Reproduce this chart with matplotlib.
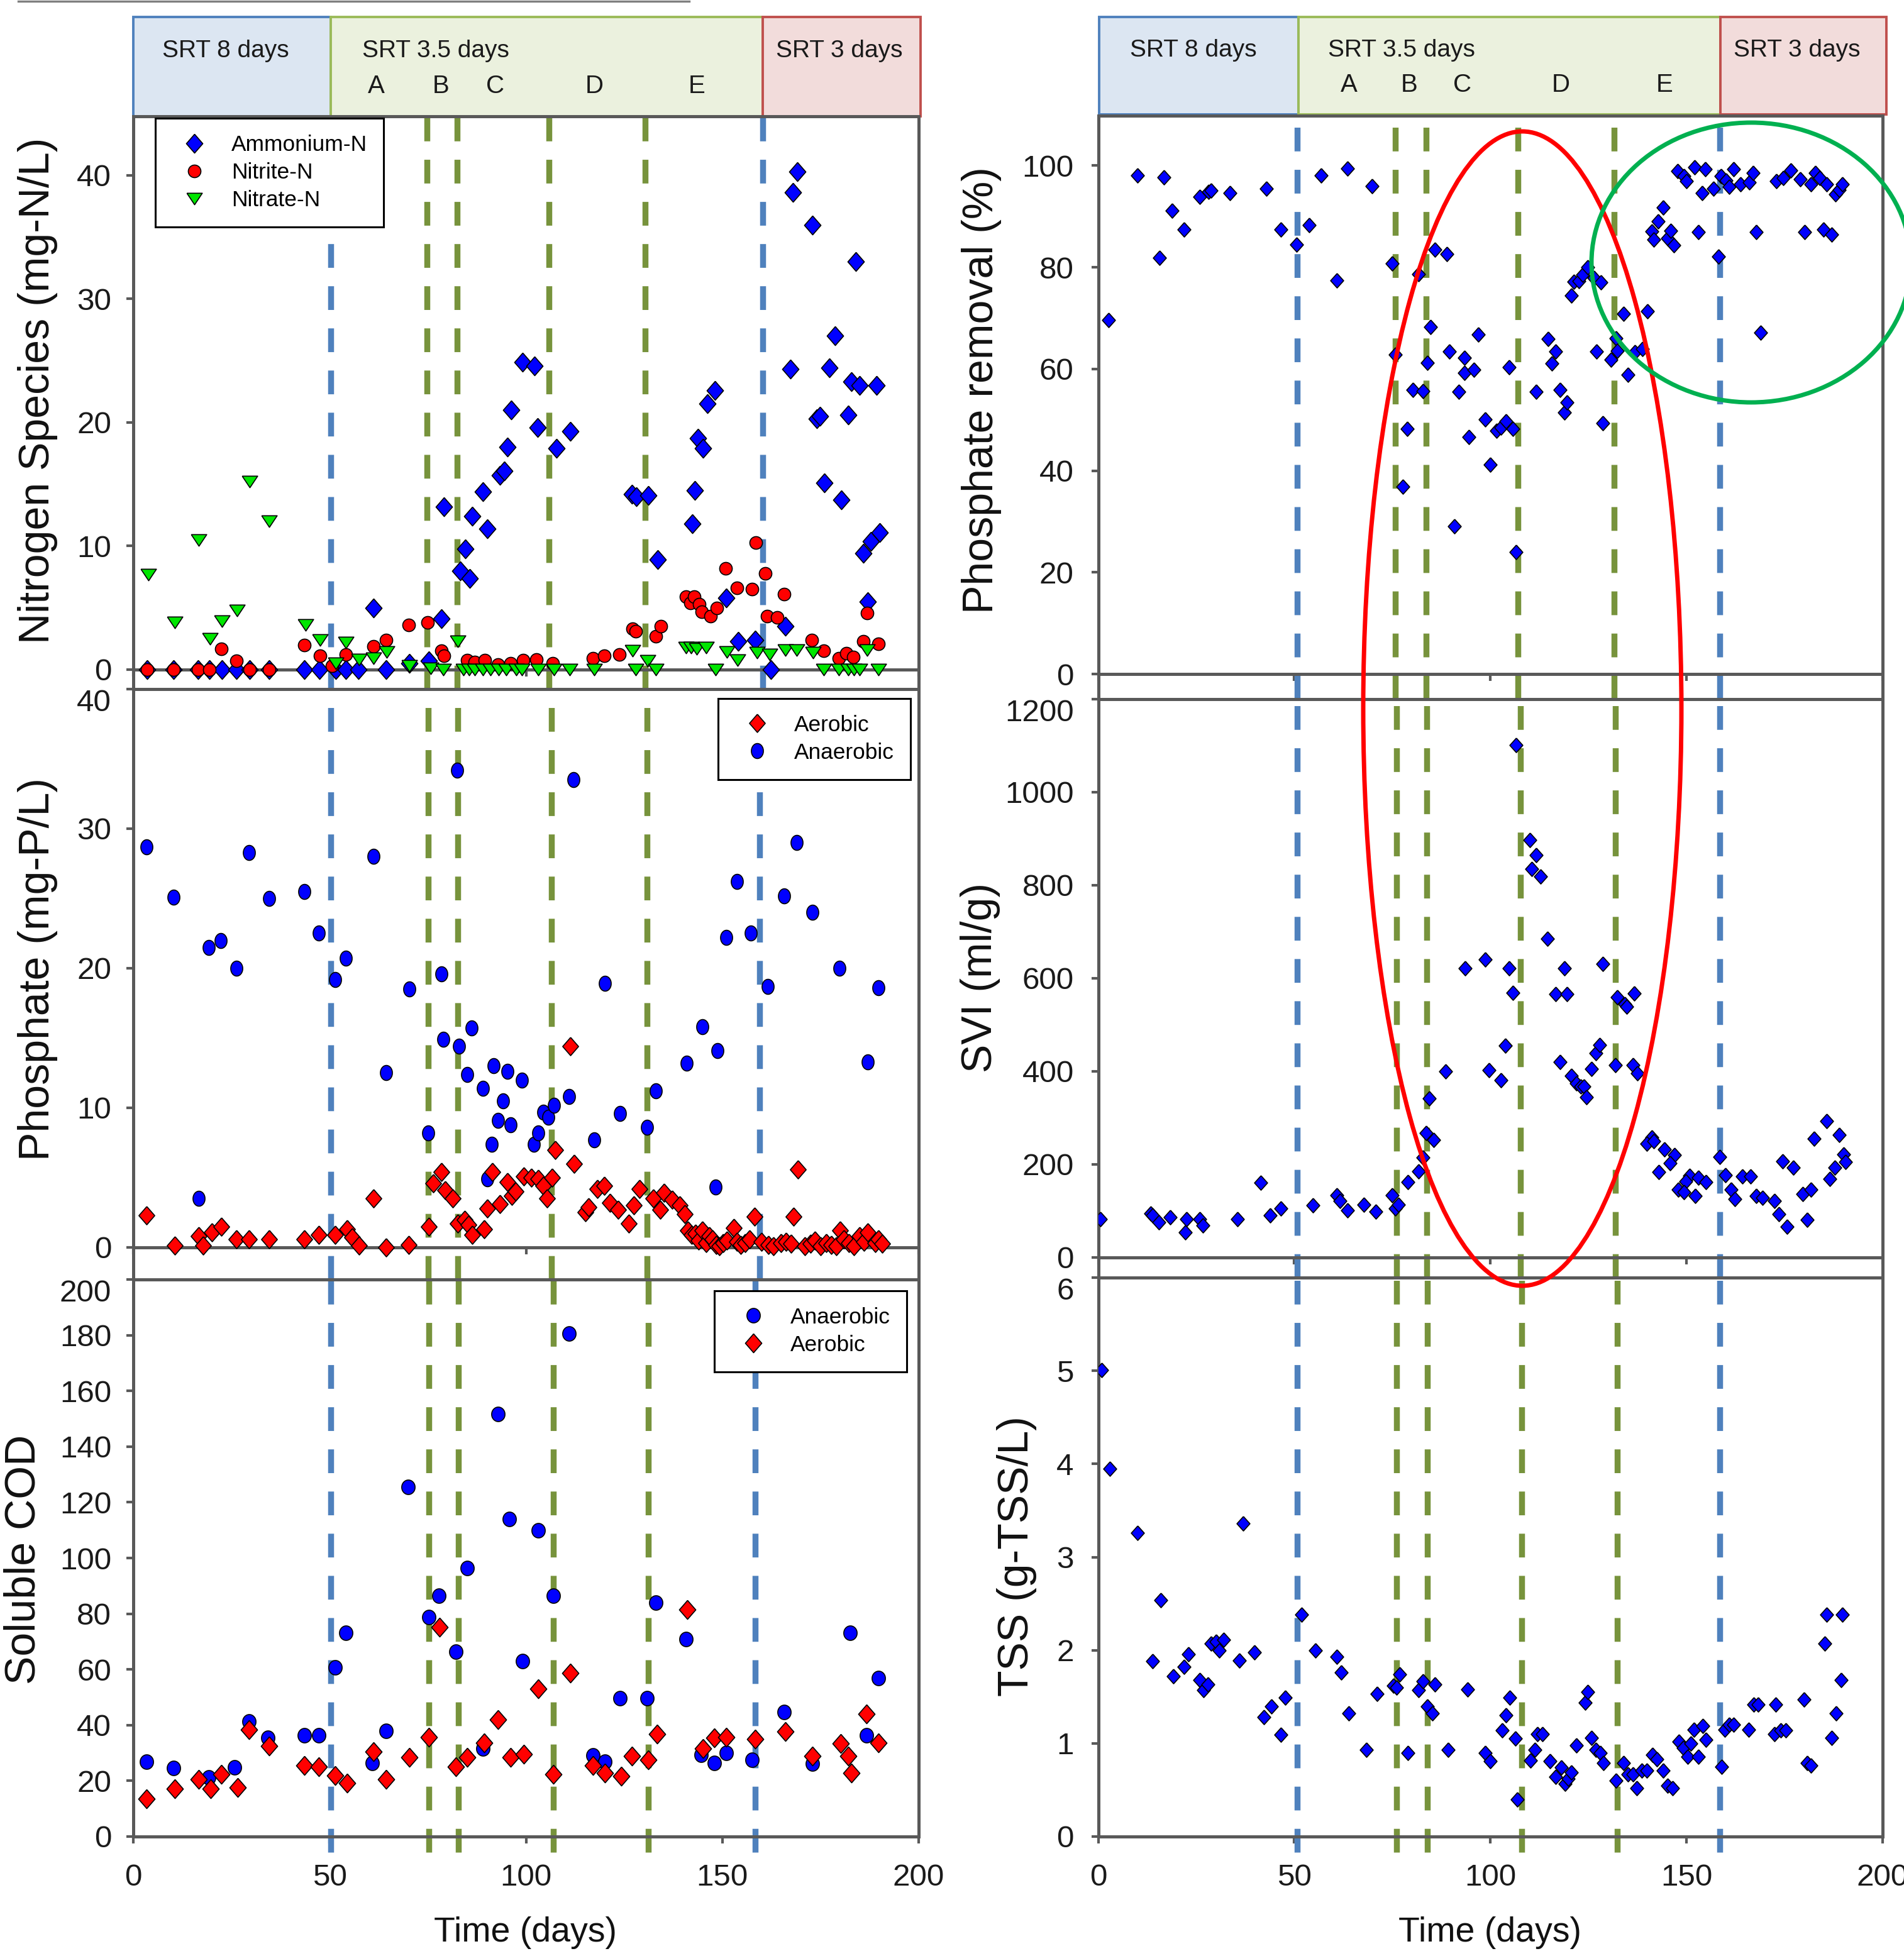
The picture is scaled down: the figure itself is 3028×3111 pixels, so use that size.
import numpy as np
import matplotlib
matplotlib.use("Agg")
import matplotlib.pyplot as plt
from matplotlib.patches import Rectangle, Ellipse
from matplotlib.lines import Line2D

plt.rcParams['font.family'] = ['Liberation Sans', 'DejaVu Sans']

W, H, DPI = 3028, 3111, 200

# ---------------- data (day, value) ----------------
ammonium = [(3.6, 0), (10.3, 0), (16.5, 0), (19.4, 0), (22.5, 0), (26.3, 0), (29.7, 0), (34.6, 0),
            (43.5, 0), (47.4, 0), (51.6, 0), (54.2, 0), (57.4, 0), (61.2, 5.0), (64.4, 0), (70.3, 0.5),
            (75.2, 0.7), (78.4, 4.1), (79.1, 13.2), (83.3, 8.0), (84.5, 9.75), (85.6, 7.4), (86.3, 12.4),
            (89.1, 14.4), (90.2, 11.4), (93.3, 15.7), (94.5, 16.1), (95.2, 18.0), (96.3, 21.0), (99.1, 24.9),
            (102.1, 24.6), (102.9, 19.6), (107.8, 17.9), (111.3, 19.3), (127.0, 14.2), (128.1, 14.0),
            (131.2, 14.1), (133.5, 8.9), (142.3, 11.8), (143.0, 14.5), (143.8, 18.7), (145.0, 17.9),
            (146.2, 21.5), (148.1, 22.6), (151.0, 5.8), (154.0, 2.3), (158.3, 2.4), (162.3, 0), (166.0, 3.5),
            (167.3, 24.3), (168.0, 38.6), (169.1, 40.3), (172.9, 36.0), (174.0, 20.3), (174.8, 20.5),
            (176.0, 15.1), (177.2, 24.4), (178.7, 27.0), (180.3, 13.75), (182.1, 20.6), (182.9, 23.3),
            (184.0, 33.0), (184.9, 23.0), (185.9, 9.4), (187.0, 5.5), (187.8, 10.4), (189.3, 23.0), (190.0, 11.1)]

nitrite = [(3.6, 0), (10.3, 0), (16.5, 0), (19.4, 0), (22.4, 1.7), (26.3, 0.7), (29.7, 0), (34.6, 0),
           (43.5, 2.0), (47.5, 1.1), (50.6, 0.3), (54.2, 1.2), (61.2, 1.9), (64.4, 2.4), (70.1, 3.6), (75.0, 3.8),
           (78.4, 1.5), (79.1, 1.1), (85.0, 0.75), (87.0, 0.6), (89.5, 0.75), (92.8, 0.4), (96.0, 0.5),
           (99.3, 0.75), (102.6, 0.8), (106.8, 0.5), (117.0, 0.9), (119.9, 1.1), (123.7, 1.2), (127.1, 3.3),
           (128.0, 3.1), (133.0, 2.7), (134.3, 3.5), (140.8, 5.9), (141.8, 5.4), (142.8, 5.9), (144.1, 5.3),
           (144.7, 4.7), (147.0, 4.3), (148.6, 5.0), (150.9, 8.2), (153.7, 6.6), (157.5, 6.5), (158.6, 10.3),
           (161.0, 7.8), (161.4, 4.3), (164.0, 4.2), (165.8, 6.1), (172.8, 2.4), (175.8, 1.5), (179.7, 0.9),
           (181.6, 1.3), (183.3, 1.0), (185.9, 2.3), (186.9, 4.6), (189.8, 2.1)]

nitrate = [(3.8, 7.7), (10.5, 3.8), (16.7, 10.5), (19.5, 2.5), (22.5, 3.9), (26.5, 4.8), (29.6, 15.2),
           (34.6, 12.0), (43.8, 3.6), (47.5, 2.4), (51.6, 0.5), (54.2, 2.2), (57.5, 0.8), (61.2, 0.9),
           (64.5, 1.4), (70.3, 0.3), (75.8, 0.1), (79.0, 0), (82.7, 2.3), (84.0, 0), (85.5, 0), (87.0, 0),
           (89.0, 0), (91.0, 0), (93.0, 0), (95.0, 0), (97.5, 0), (99.0, 0), (103.1, 0), (107.1, 0),
           (111.1, 0), (117.3, 0), (127.1, 1.5), (128.0, 0), (131.0, 0.7), (133.0, 0), (140.8, 1.8),
           (142.0, 1.8), (143.5, 1.7), (145.8, 1.8), (148.3, 0), (151.2, 1.4), (153.9, 0.75), (158.8, 1.35),
           (162.0, 1.2), (166.0, 1.6), (168.9, 1.6), (173.1, 1.35), (175.8, 0), (179.7, 0), (182.0, 0),
           (183.5, 0), (185.0, 0), (186.9, 1.6), (189.8, 0)]

phos_anaerobic = [(3.3, 28.7), (10.2, 25.1), (16.6, 3.5), (19.2, 21.5), (22.3, 22.0), (26.3, 20.0),
                  (29.4, 28.3), (34.6, 25.0), (43.5, 25.5), (47.3, 22.5), (51.4, 19.2), (54.2, 20.7),
                  (61.1, 28.0), (64.3, 12.5), (70.3, 18.5), (75.1, 8.2), (78.4, 19.6), (78.9, 14.9),
                  (82.4, 34.2), (83.0, 14.4), (85.1, 12.4), (86.1, 15.7), (89.0, 11.4), (90.2, 4.9),
                  (91.3, 7.4), (91.8, 13.0), (92.8, 9.1), (94.2, 10.5), (95.2, 12.6), (96.1, 8.8), (99.0, 12.0),
                  (102.0, 7.4), (103.1, 8.2), (104.4, 9.7), (105.7, 9.3), (107.2, 10.2), (110.9, 10.8),
                  (112.1, 33.5), (117.3, 7.7), (120.1, 18.9), (124.0, 9.6), (130.9, 8.6), (133.0, 11.2),
                  (140.9, 13.2), (144.9, 15.8), (148.2, 4.3), (148.7, 14.1), (151.0, 22.2), (153.8, 26.2),
                  (157.3, 22.5), (161.6, 18.7), (165.8, 25.2), (168.9, 29.0), (173.0, 24.0), (179.8, 20.0),
                  (187.1, 13.3), (189.8, 18.6)]

phos_aerobic = [(3.3, 2.3), (10.5, 0.15), (16.6, 0.8), (17.8, 0.15), (20.0, 1.1), (22.4, 1.5), (26.3, 0.6),
                (29.4, 0.6), (34.6, 0.6), (43.5, 0.6), (47.3, 0.9), (51.4, 0.9), (54.5, 1.3), (55.7, 0.7),
                (57.5, 0.15), (61.1, 3.5), (64.3, 0), (70.2, 0.2), (75.3, 1.5), (76.4, 4.6), (78.4, 5.4),
                (79.5, 4.1), (81.3, 3.5), (82.6, 1.7), (84.4, 2.0), (85.4, 1.6), (86.3, 0.9), (89.3, 1.3),
                (90.2, 2.8), (91.5, 5.4), (93.3, 3.1), (95.2, 4.7), (96.4, 3.7), (97.3, 4.0), (99.5, 5.1),
                (101.3, 5.0), (103.1, 4.9), (104.4, 4.4), (105.3, 3.5), (106.6, 5.0), (107.5, 7.0),
                (111.3, 14.4), (112.2, 6.0), (115.1, 2.5), (116.0, 2.9), (118.2, 4.2), (120.0, 4.4),
                (121.3, 3.2), (123.5, 2.7), (126.2, 1.7), (127.5, 3.0), (128.9, 4.2), (132.4, 3.5),
                (134.2, 2.7), (135.1, 3.9), (137.3, 3.4), (139.1, 3.0), (140.4, 2.4), (141.3, 1.2),
                (142.2, 0.9), (143.1, 1.0), (144.0, 0.5), (144.9, 1.2), (145.8, 0.3), (146.6, 0.8),
                (147.5, 0.6), (148.4, 0.2), (149.3, 0.1), (150.2, 0.3), (151.1, 0.5), (152.9, 1.4),
                (153.8, 0.4), (154.7, 0.2), (155.8, 0.3), (156.9, 0.6), (158.2, 2.2), (160.0, 0.4),
                (161.8, 0.2), (163.0, 0.1), (164.9, 0.3), (166.2, 0.4), (167.5, 0.25), (168.2, 2.2),
                (169.3, 5.6), (171.0, 0.1), (172.4, 0.25), (173.5, 0.5), (175.1, 0.1), (176.5, 0.3),
                (177.8, 0.2), (179.0, 0.1), (180.0, 1.2), (181.0, 0.6), (182.2, 0.3), (183.5, 0.1),
                (184.9, 0.8), (186.0, 0.4), (187.1, 1.1), (188.9, 0.3), (189.8, 0.6), (190.7, 0.25)]

cod_anaerobic = [(3.3, 26.9), (10.2, 24.5), (19.2, 21.2), (25.8, 24.8), (29.4, 41.3), (34.3, 35.5),
                 (43.5, 36.4), (47.3, 36.4), (51.4, 60.8), (54.2, 73.1), (60.8, 26.4), (64.3, 37.9),
                 (69.9, 125.6), (75.2, 78.7), (77.9, 86.4), (82.2, 66.4), (85.1, 96.4), (89.1, 31.6),
                 (92.8, 151.7), (95.8, 113.9), (99.1, 62.9), (103.2, 110.0), (107.0, 86.4), (111.0, 180.5),
                 (117.0, 29.1), (120.1, 26.9), (123.9, 49.6), (130.8, 49.6), (133.1, 84.0), (140.8, 70.8),
                 (144.6, 29.3), (148.0, 26.4), (151.0, 30.1), (157.6, 27.6), (165.8, 44.8), (173.0, 26.1),
                 (182.5, 73.1), (186.7, 36.4), (189.8, 56.8)]

cod_aerobic = [(3.3, 13.6), (10.5, 17.2), (16.6, 20.5), (19.7, 17.2), (22.4, 22.4), (26.6, 17.6),
               (29.4, 38.4), (34.6, 32.4), (43.5, 25.6), (47.3, 25.1), (51.4, 22.0), (54.5, 19.2),
               (61.1, 30.4), (64.3, 20.5), (70.3, 28.5), (75.3, 35.7), (78.0, 75.2), (82.2, 25.1),
               (85.1, 28.5), (89.4, 33.6), (92.9, 42.0), (96.0, 28.5), (99.4, 29.6), (103.2, 53.1),
               (107.0, 22.4), (111.3, 58.7), (117.0, 25.6), (120.1, 22.8), (124.2, 21.6), (127.0, 28.8),
               (131.1, 27.6), (133.4, 36.8), (141.1, 81.6), (145.1, 31.6), (148.0, 35.5), (151.0, 35.7),
               (158.4, 34.9), (166.0, 37.6), (173.0, 28.8), (180.1, 33.3), (182.1, 28.8), (182.9, 22.8),
               (186.7, 44.0), (189.8, 33.6)]

p_removal = [(2.7, 69.6), (10.0, 98.1), (15.6, 81.8), (16.7, 97.7), (18.8, 91.1), (21.9, 87.4), (25.8, 93.8),
             (28.1, 94.8), (28.8, 95.1), (33.6, 94.6), (42.8, 95.5), (46.6, 87.4), (50.6, 84.4), (53.8, 88.3),
             (56.9, 98.1), (60.9, 77.4), (63.6, 99.4), (69.8, 95.9), (75.0, 80.7), (75.8, 62.8), (77.7, 36.8),
             (78.8, 48.2), (80.3, 55.9), (81.6, 78.7), (82.8, 55.7), (83.9, 61.2), (84.7, 68.3), (85.8, 83.5),
             (88.9, 82.6), (89.5, 63.4), (90.8, 29.1), (92.0, 55.5), (93.3, 62.2), (93.3, 59.2), (94.5, 46.6),
             (95.8, 59.8), (96.9, 66.8), (98.6, 50.1), (100.0, 41.2), (101.6, 47.9), (102.7, 48.5),
             (103.9, 49.7), (104.8, 60.3), (105.8, 48.2), (106.6, 24.0), (111.6, 55.5), (114.7, 65.9),
             (115.6, 61.1), (116.7, 63.4), (117.8, 55.9), (118.8, 51.4), (119.5, 53.4), (120.6, 74.4),
             (121.3, 77.1), (122.5, 77.3), (123.6, 78.5), (124.8, 80.0), (126.4, 77.9), (127.0, 63.4),
             (128.1, 77.0), (128.6, 49.4), (130.8, 61.8), (132.0, 66.0), (132.4, 63.5), (133.9, 70.9),
             (135.0, 58.9), (136.8, 63.3), (138.8, 63.9), (140.1, 71.4), (141.1, 87.0), (141.7, 85.5),
             (142.8, 89.0), (144.0, 91.7), (145.1, 85.7), (146.0, 87.2), (146.8, 84.3), (147.7, 98.9),
             (149.4, 97.9), (150.0, 96.9), (152.0, 99.6), (153.0, 86.9), (154.0, 94.6), (154.8, 99.3),
             (156.8, 95.4), (158.2, 82.1), (158.8, 97.9), (160.0, 97.1), (160.8, 95.8), (162.0, 99.3),
             (163.7, 96.3), (166.0, 96.7), (167.0, 98.5), (167.7, 86.9), (168.9, 67.1), (172.9, 96.9),
             (174.6, 97.5), (176.6, 99.1), (179.0, 97.3), (180.1, 86.9), (181.7, 96.3), (182.9, 98.5),
             (184.0, 97.5), (185.0, 87.4), (185.7, 96.3), (187.0, 86.4), (188.0, 94.4), (188.9, 95.2),
             (189.8, 96.3)]

svi = [(0.6, 82), (13.3, 95), (13.9, 91), (15.5, 76), (18.3, 86), (22.2, 54), (22.5, 82), (25.8, 82),
       (26.6, 69), (35.5, 82), (41.4, 161), (43.8, 91), (46.6, 105), (54.7, 112), (60.8, 134), (61.6, 121),
       (63.6, 101), (67.7, 114), (70.8, 98), (75.0, 134), (75.8, 106), (76.6, 113), (78.9, 162), (81.7, 185),
       (82.8, 215), (83.6, 267), (84.4, 342), (85.6, 252), (88.6, 400), (93.6, 622), (98.6, 641), (99.7, 402),
       (102.7, 381), (103.8, 456), (104.8, 622), (105.8, 569), (106.6, 1101), (110.0, 897), (111.6, 865),
       (110.5, 835), (112.8, 819), (114.6, 685), (116.7, 566), (117.8, 420), (118.8, 621), (119.5, 566),
       (120.6, 391), (121.9, 374), (123.0, 368), (123.8, 368), (124.5, 344), (125.8, 405), (126.9, 439),
       (127.8, 457), (128.6, 631), (131.9, 414), (132.3, 560), (134.2, 544), (134.7, 539), (136.6, 567),
       (136.3, 414), (137.5, 396), (141.1, 258), (139.8, 245), (141.7, 250), (144.4, 232), (146.9, 220),
       (145.8, 203), (142.9, 184), (150.7, 176), (153.1, 171), (155.0, 162), (149.8, 164), (147.9, 146),
       (149.3, 141), (152.2, 133), (158.5, 216), (159.9, 177), (164.2, 174), (166.4, 174), (161.3, 146),
       (162.3, 126), (167.8, 133), (169.4, 128), (172.4, 122), (173.5, 93), (175.7, 66), (180.8, 81),
       (174.5, 207), (177.3, 193), (179.7, 137), (181.8, 146), (182.6, 255), (185.7, 293), (188.9, 264),
       (186.6, 169), (187.8, 193), (190.1, 222), (190.6, 205)]

tss = [(0.8, 5.01), (3.0, 3.95), (10.0, 3.26), (13.9, 1.88), (15.9, 2.54), (19.1, 1.72), (21.9, 1.82),
       (23.0, 1.96), (25.8, 1.68), (26.9, 1.57), (28.0, 1.63), (28.8, 2.07), (30.0, 2.09), (30.8, 2.00),
       (32.0, 2.11), (35.9, 1.89), (37.0, 3.36), (39.8, 1.98), (42.2, 1.28), (44.1, 1.40), (46.6, 1.09),
       (47.7, 1.49), (51.9, 2.38), (55.3, 2.00), (60.9, 1.93), (62.0, 1.76), (63.9, 1.32), (68.3, 0.93),
       (71.1, 1.53), (75.3, 1.62), (76.1, 1.60), (76.9, 1.74), (78.9, 0.90), (81.6, 1.57), (82.8, 1.67),
       (83.9, 1.40), (85.2, 1.32), (85.9, 1.63), (89.2, 0.93), (94.2, 1.58), (98.6, 0.90), (100.0, 0.81),
       (103.0, 1.14), (103.9, 1.30), (105.0, 1.49), (106.3, 1.05), (106.9, 0.40), (110.2, 0.82),
       (111.3, 0.93), (112.0, 1.10), (113.3, 1.10), (115.2, 0.81), (116.7, 0.64), (118.0, 0.74),
       (119.1, 0.57), (119.8, 0.62), (120.6, 0.69), (121.9, 0.98), (124.1, 1.44), (124.8, 1.55),
       (125.8, 1.06), (126.9, 0.93), (128.0, 0.90), (128.8, 0.79), (132.0, 0.60), (133.9, 0.79),
       (135.0, 0.67), (136.3, 0.67), (137.3, 0.52), (138.6, 0.71), (139.8, 0.71), (141.3, 0.88),
       (142.5, 0.83), (144.1, 0.71), (145.2, 0.55), (146.4, 0.52), (148.0, 1.02), (149.1, 0.95),
       (150.3, 0.86), (151.1, 1.00), (151.9, 1.15), (153.1, 0.86), (154.2, 1.19), (155.0, 1.04),
       (158.9, 0.75), (159.7, 1.15), (160.9, 1.20), (162.0, 1.20), (165.9, 1.15), (167.2, 1.42),
       (168.3, 1.42), (172.5, 1.10), (172.7, 1.42), (174.1, 1.14), (175.3, 1.14), (180.0, 1.47),
       (180.8, 0.79), (181.7, 0.76), (185.2, 2.07), (185.8, 2.38), (187.0, 1.06), (188.1, 1.32),
       (189.4, 1.68), (189.7, 2.38)]

# phase boundaries (days), per panel
blue_left = [[50.3, 160.3], [50.3, 159.5], [50.3, 158.4]]
green_left = [[74.7, 82.4, 105.9, 130.4], [75.1, 82.6, 106.5, 130.8], [75.3, 82.8, 107.0, 131.1]]
blue_right = [[50.7, 158.4], [50.7, 158.4], [50.7, 158.4]]
green_right = [[75.7, 83.6, 107.0, 131.6], [76.0, 83.7, 107.6, 131.8], [76.1, 83.9, 108.0, 132.3]]

srt_labels = ["SRT 8 days", "SRT 3.5 days", "SRT 3 days"]
phase_letters = ["A", "B", "C", "D", "E"]
boxes_left = [(0, 50.3), (50.3, 160.3), (160.3, 200.5)]
boxes_right = [(0.2, 51.0), (51.0, 158.6), (158.6, 201.0)]
srt_x_left = [7.4, 58.3, 163.7]
srt_x_right = [8.1, 58.6, 162.0]
letter_x_left = [61.8, 78.3, 92.2, 117.4, 143.5]
letter_x_right = [64.0, 79.3, 92.9, 117.9, 144.4]

# ---------------- styling helpers ----------------
BLUE, RED, GREEN = '#0000ff', '#ff0000', '#00e600'
BLUE_LINE, GREEN_LINE = '#4f81bd', '#77933c'
SPINE = '#595959'
t = np.linspace(0, 2 * np.pi, 41)
DIAMOND = [(0, 1), (0.87, 0), (0, -1), (-0.87, 0), (0, 1)]
DIAMOND_R = [(0, 1), (0.9, 0), (0, -1), (-0.9, 0), (0, 1)]
TRI = [(-1, 0.75), (1, 0.75), (0, -0.75), (-1, 0.75)]
ELL = list(zip(0.8 * np.cos(t), np.sin(t)))
ELL2 = list(zip(0.92 * np.cos(t), np.sin(t)))


def px_rect(x0, y0, x1, y1):
    return [x0 / W, 1 - y1 / H, (x1 - x0) / W, (y1 - y0) / H]


def pts(series):
    d, v = zip(*series)
    return np.array(d), np.array(v)


def scatter(ax, series, marker, s, color):
    d, v = pts(series)
    ax.scatter(d, v, marker=marker, s=s, c=color, edgecolors='black', linewidths=0.6, zorder=3)


def style_axes(ax, ylim, yticks, xticks, bottom_panel, ypad, top_label_down=False):
    ax.set_xlim(0, 200)
    ax.set_ylim(*ylim)
    ax.set_yticks(yticks)
    ax.set_xticks(xticks)
    for sp in ax.spines.values():
        sp.set_color(SPINE)
        sp.set_linewidth(1.8)
    if not bottom_panel:
        ax.spines['bottom'].set_position(('data', 0))
    ax.tick_params(direction='out', length=4, width=1.5, color=SPINE,
                   labelsize=17.8, labelcolor='#1a1a1a')
    ax.tick_params(axis='y', pad=ypad, right=False)
    ax.tick_params(axis='x', pad=11.5, top=False, labelbottom=bottom_panel)
    if top_label_down:
        ax.get_yticklabels()[-1].set_va('top')


def phase_lines(ax, blues, greens, ymin):
    for x in greens:
        ax.axvline(x, ymin=ymin, ymax=1, color=GREEN_LINE, lw=3.4, ls=(0, (4, 3.1)),
                   zorder=2, clip_on=False)
    for x in blues:
        ax.axvline(x, ymin=ymin, ymax=1, color=BLUE_LINE, lw=3.4, ls=(0, (4, 3.1)),
                   zorder=2, clip_on=False)


def header(rect, boxes, srt_x, letter_x):
    hax = fig.add_axes(rect)
    hax.set_xlim(0, 200)
    hax.set_ylim(0, 1)
    hax.axis('off')
    fills = ['#dce6f2', '#ebf1de', '#f2dcdb']
    edges = ['#4f81bd', '#9bbb59', '#c0504d']
    for (a, b), fc, ec in zip(boxes, fills, edges):
        hax.add_patch(Rectangle((a, 0), b - a, 1, facecolor=fc, edgecolor=ec, lw=1.4, clip_on=False))
    for x, lab in zip(srt_x, srt_labels):
        hax.text(x, 0.66, lab, ha='left', va='center', fontsize=14, color='#1a1a1a')
    for x, lab in zip(letter_x, phase_letters):
        hax.text(x, 0.30, lab, ha='center', va='center', fontsize=14.5, color='#1a1a1a')


def legend(ax, handles, labels, anchor):
    leg = ax.legend(handles, labels, loc='upper left', bbox_to_anchor=anchor, borderaxespad=0,
                    frameon=True, fancybox=False, edgecolor='black', framealpha=1, fontsize=12.7,
                    handlelength=2.04, handletextpad=0.65, borderpad=0.74, labelspacing=0.31)
    leg.get_frame().set_linewidth(1.1)
    leg.set_zorder(6)


def handle(marker, ms, color):
    return Line2D([], [], marker=marker, markersize=ms, ls='none', mfc=color, mec='black', mew=0.6)


fig = plt.figure(figsize=(W / DPI, H / DPI), dpi=DPI)

# ---------------- left column ----------------
header(px_rect(212, 27, 1461, 184.6), boxes_left, srt_x_left, letter_x_left)

ax1 = fig.add_axes(px_rect(212, 184.6, 1461, 1096))
phase_lines(ax1, blue_left[0], green_left[0], 0)
scatter(ax1, ammonium, DIAMOND, 117, BLUE)
scatter(ax1, nitrite, 'o', 52, RED)
scatter(ax1, nitrate, TRI, 78, GREEN)
style_axes(ax1, (-1.58, 44.8), [0, 10, 20, 30, 40], [0, 100, 200], False, 8.6)
legend(ax1, [handle(DIAMOND, 10.8, BLUE), handle('o', 7.2, RED), handle(TRI, 8.8, GREEN)],
       ['Ammonium-N', 'Nitrite-N', 'Nitrate-N'], (0.028, 0.996))

ax2 = fig.add_axes(px_rect(212, 1096, 1461, 2035))
phase_lines(ax2, blue_left[1], green_left[1], 0)
scatter(ax2, phos_anaerobic, ELL, 74, BLUE)
scatter(ax2, phos_aerobic, DIAMOND, 109, RED)
style_axes(ax2, (-2.3, 40), [0, 10, 20, 30, 40], [0, 100, 200], False, 8.6, True)
legend(ax2, [handle(DIAMOND, 10.4, RED), handle(ELL, 8.6, BLUE)],
       ['Aerobic', 'Anaerobic'], (0.7446, 0.9845))

ax3 = fig.add_axes(px_rect(212, 2035, 1461, 2921))
phase_lines(ax3, blue_left[2], green_left[2], -0.028)
scatter(ax3, cod_anaerobic, ELL2, 69, BLUE)
scatter(ax3, cod_aerobic, DIAMOND, 117, RED)
style_axes(ax3, (0, 200), list(range(0, 201, 20)), [0, 50, 100, 150, 200], True, 8.6, True)
legend(ax3, [handle(ELL2, 8.3, BLUE), handle(DIAMOND, 10.8, RED)],
       ['Anaerobic', 'Aerobic'], (0.7398, 0.980))

# ---------------- right column ----------------
header(px_rect(1746.6, 27, 2994, 182), boxes_right, srt_x_right, letter_x_right)

ax4 = fig.add_axes(px_rect(1746.6, 184, 2994, 1112))
phase_lines(ax4, blue_right[0], green_right[0], 0)
scatter(ax4, p_removal, DIAMOND_R, 69, BLUE)
style_axes(ax4, (-4.94, 109.8), [0, 20, 40, 60, 80, 100], [0, 50, 100, 150, 200], False, 10)

ax5 = fig.add_axes(px_rect(1746.6, 1112, 2994, 2032))
phase_lines(ax5, blue_right[1], green_right[1], 0)
scatter(ax5, svi, DIAMOND_R, 69, BLUE)
style_axes(ax5, (-43.3, 1200), list(range(0, 1201, 200)), [0, 50, 100, 150, 200], False, 10, True)

ax6 = fig.add_axes(px_rect(1746.6, 2032, 2994, 2921))
phase_lines(ax6, blue_right[2], green_right[2], -0.028)
scatter(ax6, tss, DIAMOND_R, 69, BLUE)
style_axes(ax6, (0, 6), [0, 1, 2, 3, 4, 5, 6], [0, 50, 100, 150, 200], True, 10, True)

# ---------------- labels ----------------
ylabels = [("Nitrogen Species (mg-N/L)", 60, 621), ("Phosphate (mg-P/L)", 60, 1541),
           ("Soluble COD", 38, 2480), ("Phosphate removal (%)", 1561, 621),
           ("SVI (ml/g)", 1559, 1555), ("TSS (g-TSS/L)", 1617, 2475)]
for txt, x, y in ylabels:
    fig.text(x / W, 1 - y / H, txt, rotation=90, ha='center', va='center', fontsize=24.5, color='#111111')
fig.text(835 / W, 1 - 3074 / H, "Time (days)", ha='center', va='center', fontsize=20, color='#111111')
fig.text(2370 / W, 1 - 3074 / H, "Time (days)", ha='center', va='center', fontsize=20, color='#111111')

# ---------------- highlight ellipses ----------------
fig.add_artist(Ellipse((2421 / W, 1 - 1127 / H), 506 / W, 1836 / H, transform=fig.transFigure,
                       fill=False, edgecolor='#ff0000', lw=2.5, zorder=10))
fig.add_artist(Ellipse((2785 / W, 1 - 417.5 / H), 508 / W, 445 / H, transform=fig.transFigure,
                       fill=False, edgecolor='#00b050', lw=2.5, zorder=10))
fig.add_artist(Line2D([29 / W, 1096 / W], [1 - 1.5 / H, 1 - 1.5 / H], transform=fig.transFigure,
                      color='#7f7f7f', lw=1.2))

fig.savefig("out.png", dpi=DPI)
